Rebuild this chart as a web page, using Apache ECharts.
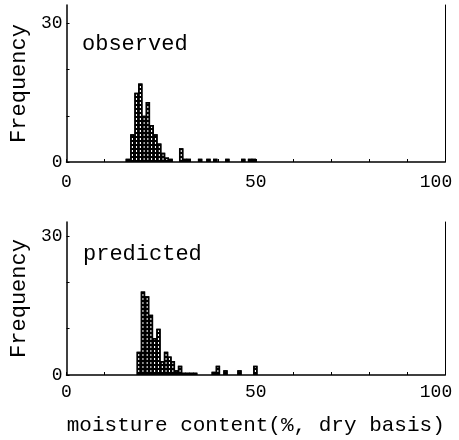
<!DOCTYPE html>
<html><head><meta charset="utf-8">
<script src="https://cdn.jsdelivr.net/npm/echarts@6/dist/echarts.min.js"></script>
<style>html,body{margin:0;padding:0;background:#fff}#c{width:459px;height:440px}</style>
</head><body><div id="c"></div>
<script>
// Observed histogram (bin centre, frequency)
var obsX = [16.2,17.4,18.5,19.5,20.5,21.5,22.5,23.5,24.5,25.5,26.5,27.5,30.3,31.3,32.3,35.3,37.5,39.3,42.5,46.7,48.5,49.5];
var obsY = [0.7,6,15,17,10,13,8,6,4,2,1,0.7,3,0.7,0.7,0.7,0.7,0.7,0.7,0.7,0.7,0.7];
// Predicted histogram
var predX = [19.1,20.2,21.3,22.3,23.3,24.3,25.3,26.3,27.2,28.1,29.0,30.0,31,32,33,34,38.9,40,42,45.7,49.9];
var predY = [5,18,17,13,8,10,3,5,4,3,1,2,0.5,0.5,0.5,0.5,0.7,2,1,1,2];
var xTicks = [0,10,20,30,40,50,60,70,80,90,100];
var xLabels = [0,50,100];
var yTicks = [0,10,20,30];
var yLabels = [0,30];
var panelNames = ['observed','predicted'];
var xTitle = 'moisture content(%, dry basis)';
var yTitle = 'Frequency';

var FONT = 'Liberation Mono';
function pairs(xs, ys){ return xs.map(function(x,i){ return [x, ys[i]]; }); }

function xAxisCfg(gi, showName, margin){
  return {
    type:'value', gridIndex:gi, min:0, max:100, interval:10,
    axisLine:{show:true, lineStyle:{color:'#000', width:1.5}},
    axisTick:{show:true, inside:true, length:3, customValues:xTicks, lineStyle:{color:'#000'}},
    axisLabel:{customValues:xLabels, margin:margin, color:'#000', fontFamily:FONT, fontSize:18,
      formatter:function(v){ return v===100 ? '{r|100}' : String(v); },
      rich:{r:{fontFamily:FONT, fontSize:18, color:'#000', padding:[0,18,0,0]}}},
    splitLine:{show:false},
    name: showName ? xTitle : '', nameLocation:'middle', nameGap:40,
    nameTextStyle:{fontFamily:FONT, fontSize:21, color:'#000'}
  };
}
function yAxisCfg(gi, max){
  return {
    type:'value', gridIndex:gi, min:0, max:max,
    axisLine:{show:true, lineStyle:{color:'#000', width:1.5}},
    axisTick:{show:true, inside:true, length:3, customValues:yTicks, lineStyle:{color:'#000'}},
    axisLabel:{customValues:yLabels, margin:4, color:'#000', fontFamily:FONT, fontSize:18},
    splitLine:{show:false},
    name:yTitle, nameLocation:'middle', nameGap:34, nameRotate:90,
    nameTextStyle:{fontFamily:FONT, fontSize:22, color:'#000'}
  };
}
function rightAxis(gi, max){
  return {type:'value', gridIndex:gi, position:'right', min:0, max:max,
    axisLine:{show:true, lineStyle:{color:'#000', width:1}}, axisTick:{show:false},
    axisLabel:{show:false}, splitLine:{show:false}};
}
var decal = {symbol:'rect', symbolSize:1, color:'#000', dashArrayX:[1,0], dashArrayY:[1.5,2], rotation:0};
function barSeries(xi, yi, data){
  return {type:'bar', xAxisIndex:xi, yAxisIndex:yi, data:data, barWidth:4.4,
    itemStyle:{color:'#fff', borderColor:'#000', borderWidth:1.5, decal:decal}, silent:true};
}

var chart = echarts.init(document.getElementById('c'), null, {renderer:'canvas'});
chart.setOption({
  animation:false,
  grid:[
    {left:64, right:14, top:5, height:157},
    {left:64, right:14, top:222, height:153}
  ],
  xAxis:[xAxisCfg(0,false,11), xAxisCfg(1,true,8)],
  yAxis:[yAxisCfg(0,34), yAxisCfg(1,33), rightAxis(0,34), rightAxis(1,33)],
  series:[barSeries(0,0,pairs(obsX,obsY)), barSeries(1,1,pairs(predX,predY))],
  graphic:[
    {type:'text', left:82, top:33, style:{text:panelNames[0], font:'22px "'+FONT+'"', fill:'#000'}},
    {type:'text', left:83, top:243, style:{text:panelNames[1], font:'22px "'+FONT+'"', fill:'#000'}}
  ]
});
</script></body></html>
